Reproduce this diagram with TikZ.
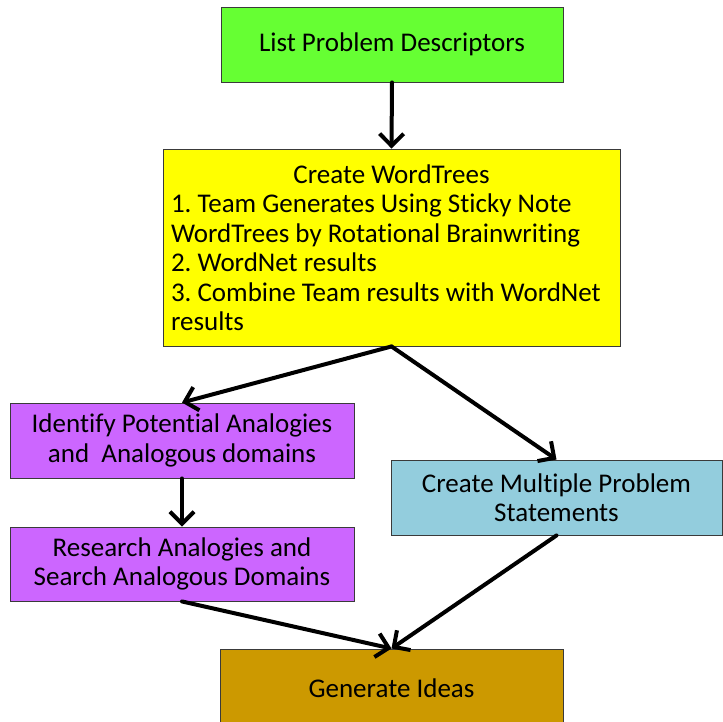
\documentclass[tikz,border=0pt]{standalone}
\usepackage{fontspec}
\setmainfont{Carlito}[Ligatures={NoCommon}]
\frenchspacing
\usetikzlibrary{arrows.meta}
\definecolor{cgreen}{HTML}{66FF33}
\definecolor{cyellow}{HTML}{FFFF00}
\definecolor{cpurple}{HTML}{CC66FF}
\definecolor{cblue}{HTML}{93CDDD}
\definecolor{cgold}{HTML}{CC9900}
\definecolor{cborder}{HTML}{3A3A3A}
\tikzset{
  box/.style={draw=cborder, line width=0.9pt, inner sep=0pt, align=center,
    font=\fontsize{27}{29.5}\selectfont\frenchspacing},
  flow/.style={line width=4pt, line cap=round, line join=round,
    -{Straight Barb[length=12pt,width=24pt,line width=4pt]}}
}
\begin{document}
\begin{tikzpicture}[x=1pt,y=-1pt]
\useasboundingbox (0,0) rectangle (723,722);
\node[box, fill=cgreen, minimum width=342pt, minimum height=75pt] (g) at (392,44.5) {List Problem Descriptors};
\node[box, fill=cyellow, minimum width=457pt, minimum height=197pt] (y) at (391.5,247.5)
  {\parbox{441pt}{\centering Create WordTrees\par\raggedright 1. Team Generates Using Sticky Note\\WordTrees by Rotational Brainwriting\\2. WordNet results\\3. Combine Team results with WordNet\\results}};
\node[box, fill=cpurple, minimum width=344pt, minimum height=75pt] (p1) at (182,440.5) {Identify Potential Analogies\\and\ \ Analogous domains};
\node[box, fill=cpurple, minimum width=344pt, minimum height=74pt] (p2) at (182,564) {Research Analogies and\\Search Analogous Domains};
\node[box, fill=cblue, minimum width=331pt, minimum height=75pt] (b) at (556.5,497.5) {Create Multiple Problem\\Statements};
\node[box, fill=cgold, minimum width=343pt, minimum height=78pt] (gi) at (391.5,688) {Generate Ideas};
\draw[flow] (g.south) -- (y.north);
\draw[flow] (y.south) -- (p1.north);
\draw[flow] (y.south) -- (b.north);
\draw[flow] (p1.south) -- (p2.north);
\draw[flow] (p2.south) -- (gi.north);
\draw[flow] (b.south) -- (gi.north);
\end{tikzpicture}
\end{document}
